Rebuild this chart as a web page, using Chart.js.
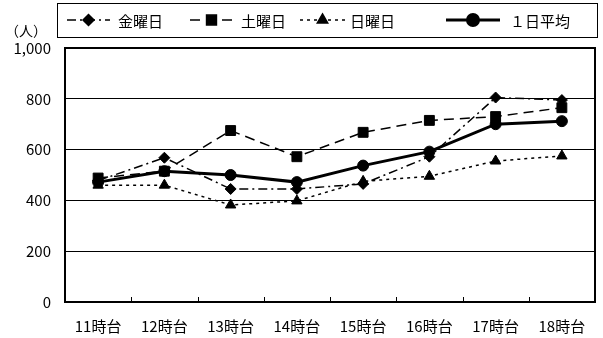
<!DOCTYPE html>
<html>
<head>
<meta charset="utf-8">
<script src="https://cdn.jsdelivr.net/npm/chart.js@4/dist/chart.umd.min.js"></script>
<style>
  html, body { margin: 0; padding: 0; background: #fff; }
  #wrap { width: 603px; height: 338px; }
</style>
</head>
<body>
<div id="wrap"><canvas id="visitors" width="603" height="338"></canvas></div>
<script>
const hours = ['11時台', '12時台', '13時台', '14時台', '15時台', '16時台', '17時台', '18時台']
const friday = [478, 568, 445, 445, 465, 572, 805, 795]
const saturday = [488, 515, 675, 572, 668, 715, 730, 765]
const sunday = [460, 460, 382, 398, 475, 495, 555, 575]
const dailyAvg = [472, 515, 500, 472, 537, 592, 700, 712]
const yTicks = [0, 200, 400, 600, 800, 1000]

// narrow latin digits, CJK falls back to Noto
const FONT = '"Liberation Sans Narrow", "Noto Sans CJK JP", sans-serif'

// legend slots: [line start, line end, text x]
const legendSlots = [[67, 110, 118], [190, 233, 241], [300, 345, 350], [446, 500, 510]]

function marker(ctx, ds, x, y) {
  Chart.helpers.drawPoint(ctx, {
    pointStyle: ds.pointStyle, radius: ds.pointRadius, rotation: 0, borderWidth: 1
  }, x, y)
}

const framePlugin = {
  id: 'frame',
  afterDraw(chart) {
    const {ctx, chartArea: a, scales: {x}} = chart
    ctx.save()
    ctx.strokeStyle = '#000'
    ctx.lineWidth = 2
    ctx.strokeRect(a.left, a.top, a.right - a.left, a.bottom - a.top)

    // short inward ticks between categories
    ctx.lineWidth = 1
    const n = hours.length
    for (let i = 1; i < n; i++) {
      const px = Math.round((x.getPixelForTick(i - 1) + x.getPixelForTick(i)) / 2) + 0.5
      ctx.beginPath()
      ctx.moveTo(px, a.bottom)
      ctx.lineTo(px, a.bottom - 5)
      ctx.stroke()
    }

    // unit label
    ctx.fillStyle = '#000'
    ctx.font = '14px ' + FONT
    ctx.textAlign = 'center'
    ctx.textBaseline = 'middle'
    ctx.fillText('（人）', 26, 31)

    // legend box
    ctx.strokeRect(57.5, 3.5, 540, 34)
    ctx.font = '15px ' + FONT
    ctx.textAlign = 'left'
    const ly = 20
    chart.data.datasets.forEach((ds, i) => {
      const [x0, x1, tx] = legendSlots[i]
      ctx.save()
      ctx.strokeStyle = '#000'
      ctx.lineWidth = ds.borderWidth
      ctx.setLineDash(ds.borderDash || [])
      ctx.beginPath()
      ctx.moveTo(x0, ly)
      ctx.lineTo(x1, ly)
      ctx.stroke()
      ctx.setLineDash([])
      ctx.fillStyle = '#000'
      marker(ctx, ds, (x0 + x1) / 2, ly)
      ctx.fillText(ds.label, tx, ly + 1)
      ctx.restore()
    })
    ctx.restore()
  }
}

function series(label, data, dash, width, style, radius) {
  return {
    label: label,
    data: data,
    borderColor: '#000',
    backgroundColor: '#000',
    pointBackgroundColor: '#000',
    pointBorderColor: '#000',
    borderWidth: width,
    borderDash: dash,
    pointStyle: style,
    pointRadius: radius,
    pointBorderWidth: 1,
    tension: 0,
    fill: false
  }
}

new Chart(document.getElementById('visitors').getContext('2d'), {
  type: 'line',
  data: {
    labels: hours,
    datasets: [
      series('金曜日', friday, [9, 4, 2, 4], 1.5, 'rectRot', 5.5),
      series('土曜日', saturday, [10, 6], 1.5, 'rect', 7),
      series('日曜日', sunday, [3, 4], 1.5, 'triangle', 6),
      series('１日平均', dailyAvg, [], 3, 'circle', 5.5)
    ]
  },
  options: {
    responsive: false,
    animation: false,
    layout: {padding: {top: 48, right: 5, left: 0, bottom: 0}},
    plugins: {legend: {display: false}, tooltip: {enabled: false}},
    scales: {
      x: {
        offset: true,
        grid: {display: false},
        border: {display: false},
        ticks: {color: '#000', font: {family: FONT, size: 15}, padding: 7, maxRotation: 0},
        afterFit(s) { s.height = 36 }
      },
      y: {
        min: 0,
        max: 1000,
        afterBuildTicks(s) { s.ticks = yTicks.map(v => ({value: v})) },
        grid: {color: '#000', lineWidth: 1, drawTicks: false},
        border: {display: false},
        ticks: {
          color: '#000',
          font: {family: FONT, size: 15},
          padding: 14,
          callback: v => v.toLocaleString('en-US')
        },
        afterFit(s) { s.width = 65 }
      }
    }
  },
  plugins: [framePlugin]
})
</script>
</body>
</html>
